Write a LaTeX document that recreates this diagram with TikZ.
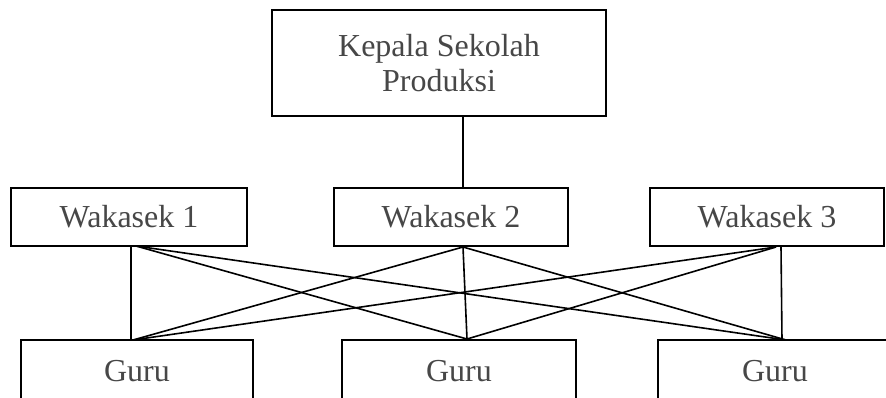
\documentclass[tikz,border=0pt]{standalone}
\usepackage{fontspec}
\setmainfont{Liberation Serif}
\begin{document}
\begin{tikzpicture}[x=1pt,y=-1pt,
  box/.style={draw=black,line width=1.5pt,fill=white,inner sep=0pt,
    text=black!72,font=\fontsize{32}{35}\selectfont,align=center},
  link/.style={draw=black,line width=1.6pt}]
\useasboundingbox (0,0) rectangle (886,397);
\clip (0,0) rectangle (886,397);

% head of school
\node[box,line width=1.8pt,minimum width=334pt,minimum height=106pt] (ks) at (439,63)
  {Kepala Sekolah\\Produksi};

% vice principals
\node[box,minimum width=236pt,minimum height=58pt] (w1) at (129,217) {Wakasek 1};
\node[box,minimum width=234pt,minimum height=58pt] (w2) at (451,217) {Wakasek 2};
\node[box,minimum width=234pt,minimum height=58pt] (w3) at (767,217) {Wakasek 3};

% teachers
\node[box,minimum width=232pt,minimum height=62pt] (g1) at (137,371) {Guru};
\node[box,minimum width=234pt,minimum height=62pt] (g2) at (459,371) {Guru};
\node[box,minimum width=250pt,minimum height=62pt] (g3) at (783,371) {};
\node[text=black!72,font=\fontsize{32}{35}\selectfont,inner sep=0pt] (g3t) at (775,371) {Guru};

% attachment points of the connectors
\coordinate (w1a) at (131,246);
\coordinate (w1b) at (136,246);
\coordinate (w2b) at (463,247);
\coordinate (w3a) at (776,247);
\coordinate (w3b) at (781,247);
\coordinate (g1a) at (131,340);
\coordinate (g1b) at (133,340);
\coordinate (g2b) at (467,339);
\coordinate (g3a) at (782,340);
\coordinate (g3b) at (786,340);

\draw[link] (ks.south -| w2b) -- (w2.north -| w2b);

\draw[link] (w1a) -- (g1a);
\draw[link] (w1b) -- (g2b);
\draw[link] (w1b) -- (g3b);
\draw[link] (w2b) -- (g1b);
\draw[link] (w2b) -- (g2b);
\draw[link] (w2b) -- (g3b);
\draw[link] (w3a) -- (g1b);
\draw[link] (w3a) -- (g2b);
\draw[link] (w3b) -- (g3a);
\end{tikzpicture}
\end{document}
